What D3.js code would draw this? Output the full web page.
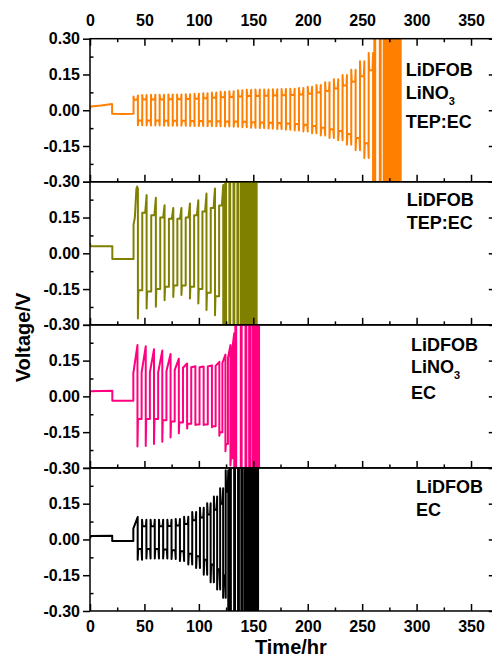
<!DOCTYPE html>
<html><head><meta charset="utf-8">
<script src="https://cdn.jsdelivr.net/npm/d3@7"></script>
<style>
body{margin:0;background:#fff;}
svg{display:block;}
text{font-family:"Liberation Sans",Arial,sans-serif;font-weight:bold;fill:#000;}
</style>
</head><body>
<svg id="chart" width="492" height="658"></svg>
<script>
// ---------------- DATA ----------------
const timeMajor = [0, 50, 100, 150, 200, 250, 300, 350];
const timeMinor = [25, 75, 125, 175, 225, 275, 325];
const voltMajor = [-0.30, -0.15, 0.00, 0.15, 0.30];
const voltMinor = [-0.225, -0.075, 0.075, 0.225];
const xTitle = "Time/hr";
const yTitle = "Voltage/V";

// Panel A : LiDFOB / LiNO3 / TEP:EC
const aLabel = ["LiDFOB", "LiNO_3", "TEP:EC"];
const aPreT = [0, 0.6, 10, 20.3, 20.3, 30, 40, 40, 40.5, 43.5, 44];
const aPreV = [0.006, 0.016, 0.02, 0.026, -0.015, -0.016, -0.015, 0.058, 0.044, 0.044, 0.062];
const aCycT = [44, 52, 60, 68, 76, 84, 92, 100, 108, 116, 124, 132, 140, 148, 156, 164, 172, 180, 188, 196, 204, 212, 220, 228, 236, 244, 252, 260];
const aLoPk = [-0.063, -0.064, -0.064, -0.065, -0.065, -0.065, -0.066, -0.066, -0.067, -0.067, -0.068, -0.069, -0.071, -0.073, -0.075, -0.077, -0.079, -0.082, -0.085, -0.089, -0.096, -0.106, -0.116, -0.126, -0.145, -0.168, -0.2];
const aLoPl = [-0.043, -0.043, -0.043, -0.044, -0.044, -0.044, -0.045, -0.045, -0.046, -0.046, -0.047, -0.047, -0.048, -0.05, -0.051, -0.052, -0.054, -0.056, -0.058, -0.061, -0.066, -0.073, -0.08, -0.087, -0.1, -0.116, -0.138];
const aHiPl = [0.045, 0.045, 0.045, 0.046, 0.046, 0.047, 0.048, 0.05, 0.052, 0.054, 0.056, 0.058, 0.06, 0.06, 0.061, 0.062, 0.063, 0.064, 0.066, 0.069, 0.074, 0.081, 0.091, 0.104, 0.119, 0.143, 0.168];
const aHiPk = [0.064, 0.065, 0.065, 0.066, 0.066, 0.067, 0.069, 0.071, 0.074, 0.077, 0.08, 0.084, 0.086, 0.087, 0.087, 0.088, 0.089, 0.09, 0.093, 0.098, 0.106, 0.117, 0.13, 0.148, 0.17, 0.205, 0.24];
const aSpikes = [261.2, 266.2, 269.8];
const aDense = [271, 286.3];

// Panel B : LiDFOB / TEP:EC
const bLabel = ["LiDFOB", "TEP:EC"];
const bPreT = [0, 0.5, 20.5, 20.5, 40, 40, 41.2, 42.6, 43.3, 44];
const bPreV = [0.043, 0.03, 0.03, -0.024, -0.024, 0.12, 0.15, 0.27, 0.28, 0.27];
const bCycT = [44, 52, 60.5, 68.5, 76.5, 84, 91.8, 99.5, 107, 114.8, 122.4];
const bLoPk = [-0.273, -0.231, -0.224, -0.197, -0.183, -0.175, -0.19, -0.21, -0.238, -0.26];
const bLoPl = [-0.155, -0.16, -0.15, -0.14, -0.135, -0.135, -0.14, -0.15, -0.165, -0.18];
const bHiPl = [0.17, 0.16, 0.15, 0.145, 0.145, 0.15, 0.16, 0.175, 0.19, 0.2];
const bHiPk = [0.244, 0.233, 0.202, 0.19, 0.19, 0.209, 0.223, 0.251, 0.272, 0.286];
const bSpikes = [124.2, 128, 131.8, 135.4];
const bDense = [137.6, 154];

// Panel C : LiDFOB / LiNO3 / EC
const cLabel = ["LiDFOB", "LiNO_3", "EC"];
const cPreT = [0, 0, 20.5, 20.5, 39.8, 39.8, 43.6];
const cPreV = [0.004, 0.022, 0.024, -0.018, -0.018, 0.097, 0.215];
const cCycT = [43.6, 51.2, 58.8, 66.4, 74, 81.6, 89.2, 96.8, 104.4, 112, 118.8, 124.4, 129, 132.5];
const cLoPk = [-0.21, -0.208, -0.2, -0.19, -0.172, -0.155, -0.135, -0.12, -0.12, -0.13, -0.165, -0.23, -0.29];
const cLoPl = [-0.095, -0.095, -0.095, -0.1, -0.105, -0.11, -0.115, -0.118, -0.118, -0.125, -0.15, -0.2, -0.26];
const cHiPl = [0.1, 0.1, 0.1, 0.105, 0.11, 0.12, 0.122, 0.122, 0.125, 0.128, 0.14, 0.16, 0.2];
const cHiPk = [0.21, 0.198, 0.192, 0.178, 0.158, 0.138, 0.126, 0.125, 0.13, 0.145, 0.175, 0.215, 0.265];
const cSpikes = [133.5, 138.5, 142.8, 146.2];
const cDense = [148.2, 156.2];

// Panel D : LiDFOB / EC
const dLabel = ["LiDFOB", "EC"];
const dPreT = [0, 0.8, 20.4, 20.4, 39.8, 39.8, 43.8];
const dPreV = [0.004, 0.014, 0.016, -0.007, -0.007, 0.045, 0.094];
const dCycT = [43.8, 51.8, 59.5, 67.2, 74.9, 82.6, 90.3, 97.5, 104.5, 110.8, 116.8, 122.3, 127];
const dLoPk = [-0.085, -0.08, -0.08, -0.08, -0.082, -0.09, -0.105, -0.12, -0.148, -0.18, -0.21, -0.245];
const dLoPl = [-0.04, -0.04, -0.04, -0.042, -0.045, -0.05, -0.06, -0.07, -0.085, -0.105, -0.125, -0.15];
const dHiPl = [0.055, 0.055, 0.055, 0.056, 0.058, 0.065, 0.08, 0.092, 0.105, 0.125, 0.15, 0.2];
const dHiPk = [0.083, 0.083, 0.083, 0.083, 0.086, 0.095, 0.115, 0.133, 0.152, 0.18, 0.215, 0.29];
const dSpikes = [128.6, 132.4, 136, 139];
const dDense = [140.8, 155.3];

// ---------------- STYLE / LAYOUT ----------------
const W = 492, H = 658;
const plotLeft = 90, plotRight = 492.8;
const panelTop = 38.7, panelH = 143.07;
const lineW = 2.0, spikeW = 0.8, edgeD = 0.45;

const shapes = {
  H:     {negEndPk: true,  posStartPk: true,  posRise: 0.45},
  olive: {negEndPk: false, posStartPk: false, posRise: 1.3},
  ramp:  {negEndPk: false, posStartPk: false, posRise: null}
};

const panels = [
  {preT:aPreT, preV:aPreV, cycT:aCycT, loPk:aLoPk, loPl:aLoPl, hiPl:aHiPl, hiPk:aHiPk, spikes:aSpikes, dense:aDense, label:aLabel,
   color:"#FF8000", shape:"H", labelX:405.7, labelY:[76, 99.3, 128.3]},
  {preT:bPreT, preV:bPreV, cycT:bCycT, loPk:bLoPk, loPl:bLoPl, hiPl:bHiPl, hiPk:bHiPk, spikes:bSpikes, dense:bDense, label:bLabel,
   color:"#808000", shape:"olive", labelX:406.7, labelY:[206, 229]},
  {preT:cPreT, preV:cPreV, cycT:cCycT, loPk:cLoPk, loPl:cLoPl, hiPl:cHiPl, hiPk:cHiPk, spikes:cSpikes, dense:cDense, label:cLabel,
   color:"#FF0080", shape:"ramp", labelX:411, labelY:[350.7, 372.7, 399.3]},
  {preT:dPreT, preV:dPreV, cycT:dCycT, loPk:dLoPk, loPl:dLoPl, hiPl:dHiPl, hiPk:dHiPk, spikes:dSpikes, dense:dDense, label:dLabel,
   color:"#000000", shape:"H", labelX:416, labelY:[492.7, 516]}
];

function seriesPoints(s, shape) {
  const pts = s.preT.map((t, i) => [t, s.preV[i]]);
  const d = edgeD;
  for (let k = 0; k < s.cycT.length - 1; k++) {
    const t0 = s.cycT[k], t1 = s.cycT[k + 1], tm = (t0 + t1) / 2, h = tm - t0;
    pts.push([t0, s.loPk[k]], [t0 + d, s.loPl[k]]);
    if (shape.negEndPk) pts.push([tm - d, s.loPl[k]], [tm, s.loPk[k]]);
    else pts.push([tm, s.loPl[k]]);
    if (shape.posStartPk) pts.push([tm, s.hiPk[k]], [tm + d, s.hiPl[k]]);
    else pts.push([tm, s.hiPl[k]]);
    if (shape.posRise != null) pts.push([t1 - Math.min(shape.posRise, h - d), s.hiPl[k]]);
    pts.push([t1, s.hiPk[k]]);
  }
  const tEnd = s.cycT[s.cycT.length - 1];
  pts.push([tEnd, -0.45]);
  s.spikes.forEach(t => { pts.push([t, -0.45], [t, 0.45], [t + spikeW, 0.45], [t + spikeW, -0.45]); });
  pts.push([s.dense[0], -0.45]);
  return pts;
}

// ---------------- DRAW ----------------
const svg = d3.select("#chart");
const defs = svg.append("defs");
const x = d3.scaleLinear().domain([0, 370]).range([plotLeft, plotRight]);
const fmt = d => d.toFixed(2);

function styleAxis(g, size) {
  g.attr("font-family", '"Liberation Sans", Arial, sans-serif')
   .attr("font-size", size).attr("font-weight", "bold");
  g.select(".domain").remove();
  g.selectAll(".tick line").attr("stroke", "#000").attr("stroke-width", 1.5);
  g.selectAll(".tick text").attr("fill", "#000");
}

panels.forEach((p, i) => {
  const top = panelTop + i * panelH;
  const g = svg.append("g").attr("transform", `translate(0,${top})`);
  const y = d3.scaleLinear().domain([-0.3, 0.3]).range([panelH, 0]);

  defs.append("clipPath").attr("id", "clip" + i)
    .append("rect").attr("x", plotLeft).attr("y", 0)
    .attr("width", plotRight - plotLeft).attr("height", panelH);

  const plot = g.append("g").attr("clip-path", `url(#clip${i})`);
  const pts = seriesPoints(p, shapes[p.shape]);
  const line = d3.line().x(d => x(d[0])).y(d => y(d[1]));
  plot.append("path").attr("d", line(pts))
    .attr("fill", "none").attr("stroke", p.color)
    .attr("stroke-width", lineW).attr("stroke-linejoin", "round");
  plot.append("rect")
    .attr("x", x(p.dense[0])).attr("width", x(p.dense[1]) - x(p.dense[0]))
    .attr("y", y(0.3) - 1).attr("height", y(-0.3) - y(0.3) + 2)
    .attr("fill", p.color);

  const la = g.append("g").attr("transform", `translate(${plotLeft},0)`)
    .call(d3.axisLeft(y).tickValues(voltMajor).tickSize(7).tickPadding(3).tickSizeOuter(0)
      .tickFormat(d => (i > 0 && d > 0.29) ? "" : fmt(d)));
  styleAxis(la, 16);
  const lm = g.append("g").attr("transform", `translate(${plotLeft},0)`)
    .call(d3.axisLeft(y).tickValues(voltMinor).tickSize(-3.5).tickFormat(""));
  styleAxis(lm, 10);
  const ra = g.append("g").attr("transform", `translate(${plotRight},0)`)
    .call(d3.axisRight(y).tickValues(voltMajor).tickSize(-4).tickFormat(""));
  styleAxis(ra, 10);

  const ba = g.append("g").attr("transform", `translate(0,${panelH})`)
    .call(d3.axisBottom(x).tickValues(timeMajor).tickSize(-7).tickPadding(i === 3 ? 9.3 : 0)
      .tickFormat(i === 3 ? d3.format("d") : ""));
  styleAxis(ba, 16);
  const bm = g.append("g").attr("transform", `translate(0,${panelH})`)
    .call(d3.axisBottom(x).tickValues(timeMinor).tickSize(-3.5).tickFormat(""));
  styleAxis(bm, 10);

  if (i === 0) {
    const ta = g.append("g")
      .call(d3.axisTop(x).tickValues(timeMajor).tickSize(-7).tickPadding(12.7).tickFormat(d3.format("d")));
    styleAxis(ta, 16);
    const tm = g.append("g")
      .call(d3.axisTop(x).tickValues(timeMinor).tickSize(-3.5).tickFormat(""));
    styleAxis(tm, 10);
  }

  g.append("rect").attr("x", plotLeft).attr("y", 0)
    .attr("width", plotRight - plotLeft).attr("height", panelH)
    .attr("fill", "none").attr("stroke", "#000").attr("stroke-width", 1.5);

  p.label.forEach((txt, j) => {
    const parts = txt.split("_");
    const t = svg.append("text").attr("x", p.labelX).attr("y", p.labelY[j])
      .attr("font-size", 18);
    t.append("tspan").text(parts[0]);
    if (parts[1]) t.append("tspan").attr("font-size", 11).attr("dy", 6).text(parts[1]);
  });
});

svg.append("text").attr("x", (plotLeft + plotRight) / 2 - 0.5).attr("y", 654)
  .attr("text-anchor", "middle").attr("font-size", 20).text(xTitle);
svg.append("text").attr("transform", "translate(30,337.5) rotate(-90)")
  .attr("text-anchor", "middle").attr("font-size", 20).text(yTitle);
</script>
</body></html>
